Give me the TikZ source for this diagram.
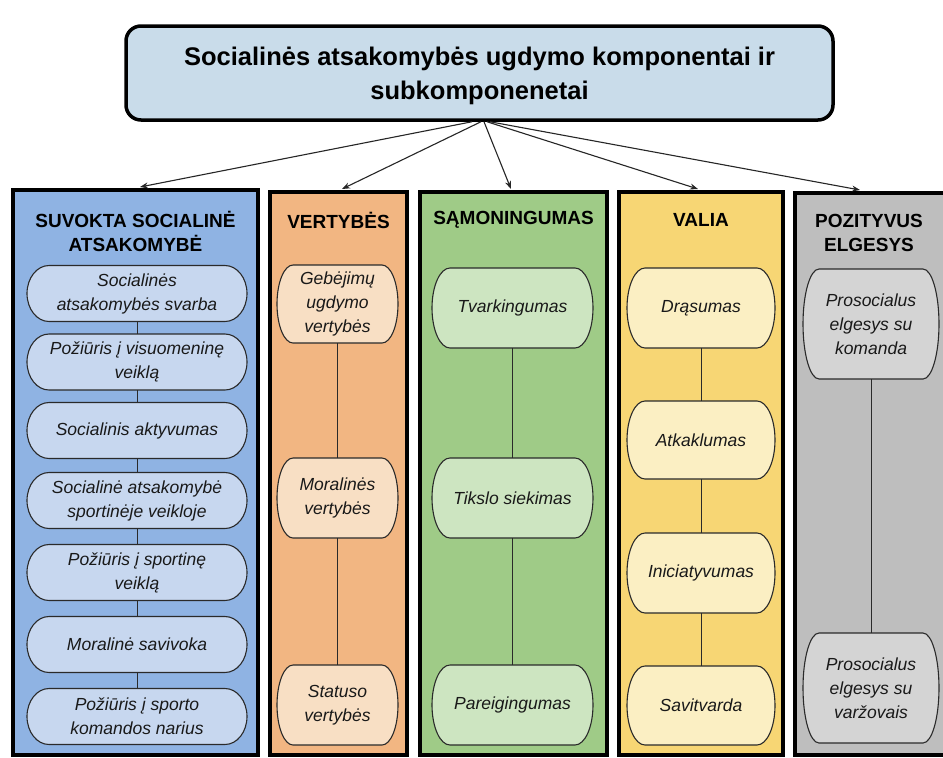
\documentclass[tikz,border=0pt]{standalone}
\usepackage{fontspec}
\setmainfont{Liberation Sans}
\usetikzlibrary{arrows.meta,calc}

\definecolor{titlefill}{HTML}{C9DCEA}
\definecolor{bluecol}{HTML}{8FB3E3}
\definecolor{bluesub}{HTML}{C7D7EF}
\definecolor{orangecol}{HTML}{F2B682}
\definecolor{orangesub}{HTML}{F8DFC4}
\definecolor{greencol}{HTML}{9FCB87}
\definecolor{greensub}{HTML}{CDE5C1}
\definecolor{yellowcol}{HTML}{F7D674}
\definecolor{yellowsub}{HTML}{FBEFC3}
\definecolor{graycol}{HTML}{BEBEBE}
\definecolor{graysub}{HTML}{D4D4D4}
\definecolor{inkline}{HTML}{2A2A2A}

% capsule with elliptic end caps, plus a named node of the same size on top
% #1 name, #2 cx, #3 cy, #4 width, #5 height, #6 cap depth, #7 fill, #8 text
\newcommand\subbox[8]{%
  \pgfmathsetmacro\hw{#4/2}\pgfmathsetmacro\hh{#5/2}%
  \path[subshape, fill=#7] (#2-\hw+#6, #3-\hh) -- (#2+\hw-#6, #3-\hh)
    arc[start angle=90, end angle=-90, x radius=#6pt, y radius=\hh pt]
    -- (#2-\hw+#6, #3+\hh)
    arc[start angle=270, end angle=90, x radius=#6pt, y radius=\hh pt] -- cycle;
  \node[subtext, minimum width=#4, minimum height=#5] (#1) at (#2,#3) {#8};
}

\tikzset{
  titlebox/.style={draw=black, line width=3.5pt, rounded corners=15pt, fill=titlefill,
    inner sep=0pt},
  titletext/.style={align=center, inner sep=0pt,
    font=\fontsize{25.5}{34}\selectfont\bfseries},
  colbox/.style={draw=black, line width=4pt, inner sep=0pt},
  coltitle/.style={align=center, inner sep=0pt, font=\fontsize{19}{24}\selectfont\bfseries},
  subshape/.style={draw=inkline, line width=1.1pt},
  subtext/.style={align=center, inner sep=0pt, text=black!90,
    font=\fontsize{17.5}{24}\selectfont\itshape},
  link/.style={draw=inkline, line width=1pt},
  arr/.style={draw=black!85, line width=1.1pt, -{Stealth[length=8pt,width=6pt]}}
}

\begin{document}
\begin{tikzpicture}[x=1pt,y=-1pt]
\path[use as bounding box, fill=white] (0,0) rectangle (943,758);

% heading
\node[titlebox, minimum width=707, minimum height=94] (top) at (479.5,73) {};
\node[titletext] (toptext) at (479.5,76)
  {Socialinės atsakomybės ugdymo komponentai ir\\subkomponenetai};

% five columns
\node[colbox, fill=bluecol,   minimum width=245, minimum height=565] (c1) at (135.5,472.5) {};
\node[colbox, fill=orangecol, minimum width=137, minimum height=563] (c2) at (338.5,473.5) {};
\node[colbox, fill=greencol,  minimum width=187, minimum height=563] (c3) at (513.5,473.5) {};
\node[colbox, fill=yellowcol, minimum width=164, minimum height=563] (c4) at (701,473.5) {};
\node[colbox, fill=graycol,   minimum width=164, minimum height=562] (c5) at (877,474) {};

% column headings
\node[coltitle] (h1) at (135.5,231.5) {SUVOKTA SOCIALINĖ\\ATSAKOMYBĖ};
\node[coltitle] (h2) at (338.5,220) {VERTYBĖS};
\node[coltitle] (h3) at (513.5,220) {SĄMONINGUMAS};
\node[coltitle] (h4) at (701,220) {VALIA};
\node[coltitle] (h5) at (869,232.5) {POZITYVUS\\ELGESYS};

% arrows from the heading to the columns
\draw[arr] ($(top.south)+(-7.5,0)$) -- ($(c1.north)+(4.5,-1)$);
\draw[arr] ($(top.south)+(1.5,0)$)  -- ($(c2.north)+(3.5,-1)$);
\draw[arr] ($(top.south)+(4.5,0)$)  -- ($(c3.north)+(-2.5,-1)$);
\draw[arr] ($(top.south)+(7.5,0)$)  -- ($(c4.north)+(-3,-1)$);
\draw[arr] ($(top.south)+(10.5,0)$) -- ($(c5.north)+(-17,-1)$);

% column 1
\subbox{a1}{137}{293.5}{220}{56}{22}{bluesub}{Socialinės\\atsakomybės svarba}
\subbox{a2}{137}{362}{220}{56}{22}{bluesub}{Požiūris į visuomeninę\\veiklą}
\subbox{a3}{137}{430.5}{220}{56}{22}{bluesub}{Socialinis aktyvumas}
\subbox{a4}{137}{500.5}{220}{56}{22}{bluesub}{Socialinė atsakomybė\\sportinėje veikloje}
\subbox{a5}{137}{572.5}{220}{56}{22}{bluesub}{Požiūris į sportinę\\veiklą}
\subbox{a6}{137}{644.5}{220}{56}{22}{bluesub}{Moralinė savivoka}
\subbox{a7}{137}{716.5}{220}{56}{22}{bluesub}{Požiūris į sporto\\komandos narius}
\draw[link] (a1.south) -- (a2.north);
\draw[link] (a2.south) -- (a3.north);
\draw[link] (a3.south) -- (a4.north);
\draw[link] (a4.south) -- (a5.north);
\draw[link] (a5.south) -- (a6.north);
\draw[link] (a6.south) -- (a7.north);

% column 2
\subbox{b1}{337.5}{304}{121}{78}{16}{orangesub}{Gebėjimų\\ugdymo\\vertybės}
\subbox{b2}{337.5}{498}{121}{80}{16}{orangesub}{Moralinės\\vertybės}
\subbox{b3}{337.5}{705}{121}{80}{16}{orangesub}{Statuso\\vertybės}
\draw[link] (b1.south) -- (b2.north);
\draw[link] (b2.south) -- (b3.north);

% column 3
\subbox{d1}{512.5}{308}{161}{80}{18}{greensub}{Tvarkingumas}
\subbox{d2}{512.5}{498}{161}{80}{18}{greensub}{Tikslo siekimas}
\subbox{d3}{512.5}{705}{161}{80}{18}{greensub}{Pareigingumas}
\draw[link] (d1.south) -- (d2.north);
\draw[link] (d2.south) -- (d3.north);

% column 4
\subbox{e1}{701}{308}{148}{80}{18}{yellowsub}{Drąsumas}
\subbox{e2}{701}{440}{148}{78}{18}{yellowsub}{Atkaklumas}
\subbox{e3}{701}{573}{148}{80}{18}{yellowsub}{Iniciatyvumas}
\subbox{e4}{701}{705.5}{148}{79}{18}{yellowsub}{Savitvarda}
\draw[link] (e1.south) -- (e2.north);
\draw[link] (e2.south) -- (e3.north);
\draw[link] (e3.south) -- (e4.north);

% column 5
\subbox{f1}{871}{324}{136}{110}{16}{graysub}{Prosocialus\\elgesys su\\komanda}
\subbox{f2}{871}{688}{136}{110}{16}{graysub}{Prosocialus\\elgesys su\\varžovais}
\draw[link] (f1.south) -- (f2.north);
\end{tikzpicture}
\end{document}
